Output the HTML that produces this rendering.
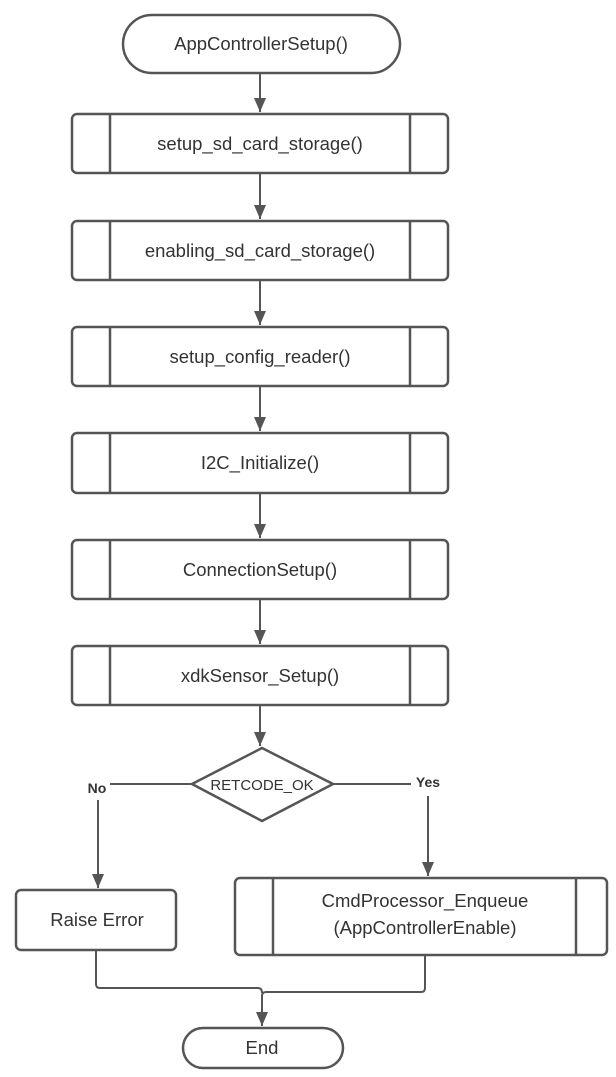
<!DOCTYPE html>
<html><head><meta charset="utf-8"><style>
html,body{margin:0;padding:0;background:#fff;}
svg{display:block;}
text{font-family:"Liberation Sans",sans-serif;fill:#333;}
</style></head><body>
<svg width="616" height="1077" viewBox="0 0 616 1077" xmlns="http://www.w3.org/2000/svg">
<defs><marker id="a" markerWidth="14" markerHeight="12" refX="14" refY="6" orient="auto" markerUnits="userSpaceOnUse" viewBox="0 0 14 12"><path d="M0,0 L14,6 L0,12 Z" fill="#555"/></marker></defs>
<g stroke="#555" stroke-width="2.5" fill="#fff">
<rect x="123" y="15" width="277" height="58" rx="29"/>
<rect x="72" y="114" width="376" height="59" rx="5"/><line x1="110" y1="114" x2="110" y2="173"/><line x1="410" y1="114" x2="410" y2="173"/>
<rect x="72" y="221" width="376" height="59" rx="5"/><line x1="110" y1="221" x2="110" y2="280"/><line x1="410" y1="221" x2="410" y2="280"/>
<rect x="72" y="327" width="376" height="59" rx="5"/><line x1="110" y1="327" x2="110" y2="386"/><line x1="410" y1="327" x2="410" y2="386"/>
<rect x="72" y="433" width="376" height="60" rx="5"/><line x1="110" y1="433" x2="110" y2="493"/><line x1="410" y1="433" x2="410" y2="493"/>
<rect x="72" y="540" width="376" height="59" rx="5"/><line x1="110" y1="540" x2="110" y2="599"/><line x1="410" y1="540" x2="410" y2="599"/>
<rect x="72" y="646" width="376" height="59" rx="5"/><line x1="110" y1="646" x2="110" y2="705"/><line x1="410" y1="646" x2="410" y2="705"/>
<path d="M262,748 L333,784 L262,821 L192,784 Z" stroke-linejoin="round"/>
<rect x="16" y="890" width="160" height="60" rx="5"/>
<rect x="235" y="878" width="372" height="77" rx="5"/><line x1="273" y1="878" x2="273" y2="955"/><line x1="576" y1="878" x2="576" y2="955"/>
<rect x="183" y="1028" width="160" height="40" rx="20"/>
</g>
<g stroke="#555" stroke-width="2" fill="none">
<line x1="260" y1="73" x2="260" y2="112" marker-end="url(#a)"/>
<line x1="260" y1="173" x2="260" y2="219" marker-end="url(#a)"/>
<line x1="260" y1="280" x2="260" y2="325" marker-end="url(#a)"/>
<line x1="260" y1="386" x2="260" y2="431" marker-end="url(#a)"/>
<line x1="260" y1="493" x2="260" y2="538" marker-end="url(#a)"/>
<line x1="260" y1="599" x2="260" y2="644" marker-end="url(#a)"/>
<line x1="260" y1="705" x2="260" y2="746" marker-end="url(#a)"/>
<line x1="110" y1="784" x2="192" y2="784"/>
<line x1="98" y1="800" x2="98" y2="888" marker-end="url(#a)"/>
<line x1="333" y1="784" x2="411" y2="784"/>
<line x1="428" y1="796" x2="428" y2="876" marker-end="url(#a)"/>
<path d="M96,950 L96,984 Q96,988 100,988 L258,988 Q262,988 262,993"/>
<path d="M425,955 L425,988 Q425,992 421,992 L266,992 Q262,992 262,996 L262,1026" marker-end="url(#a)"/>
</g>
<g font-size="18.5" text-anchor="middle">
<text x="261" y="50">AppControllerSetup()</text>
<text x="260" y="150">setup_sd_card_storage()</text>
<text x="260" y="257">enabling_sd_card_storage()</text>
<text x="260" y="363">setup_config_reader()</text>
<text x="260" y="469">I2C_Initialize()</text>
<text x="260" y="576">ConnectionSetup()</text>
<text x="260" y="682">xdkSensor_Setup()</text>
<text x="262" y="790" font-size="15">RETCODE_OK</text>
<text x="97" y="926">Raise Error</text>
<text x="425" y="907">CmdProcessor_Enqueue</text>
<text x="425" y="934">(AppControllerEnable)</text>
<text x="262" y="1054">End</text>
<text x="97" y="793" font-size="14" font-weight="bold">No</text>
<text x="428" y="787" font-size="14" font-weight="bold">Yes</text>
</g>
</svg>
</body></html>
